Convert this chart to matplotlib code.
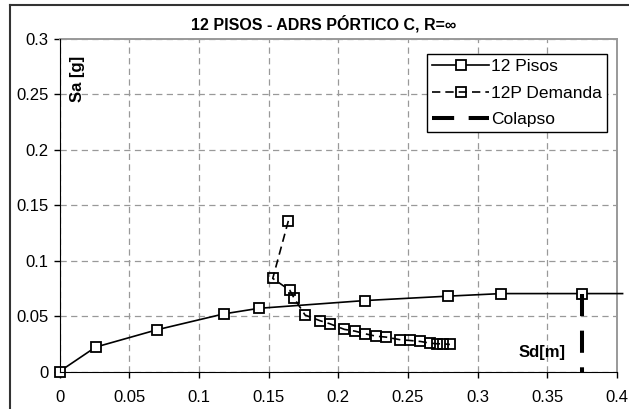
import matplotlib.pyplot as plt
from matplotlib.lines import Line2D

plt.rcParams['font.family'] = ['Liberation Sans', 'DejaVu Sans']

# curva de capacidad 12 pisos (Sd [m], Sa [g])
sd_cap = [0.0, 0.0259, 0.0701, 0.118, 0.143, 0.219, 0.279, 0.317, 0.375, 0.404]
sa_cap = [0.0, 0.022, 0.0377, 0.052, 0.057, 0.064, 0.068, 0.0703, 0.0703, 0.0703]

# curva de demanda
sd_dem = [0.1642, 0.1530, 0.1652, 0.1683, 0.1762, 0.1870, 0.1939, 0.2044, 0.2121,
          0.2190, 0.2269, 0.2346, 0.2446, 0.2513, 0.2590, 0.2657, 0.2710, 0.2753, 0.2801]
sa_dem = [0.1359, 0.0840, 0.0733, 0.0663, 0.0509, 0.0458, 0.0431, 0.0380, 0.0364,
          0.0341, 0.0319, 0.0310, 0.0286, 0.0280, 0.0271, 0.0256, 0.0250, 0.0250, 0.0244]

# colapso
sd_col = [0.375, 0.375]
sa_col = [0.0703, 0.0]

xticks = [0, 0.05, 0.1, 0.15, 0.2, 0.25, 0.3, 0.35, 0.4]
xlabels = ['0', '0.05', '0.1', '0.15', '0.2', '0.25', '0.3', '0.35', '0.4']
yticks = [0, 0.05, 0.1, 0.15, 0.2, 0.25, 0.3]
ylabels = ['0', '0.05', '0.1', '0.15', '0.2', '0.25', '0.3']

fig = plt.figure(figsize=(6.29, 4.09), dpi=100)
ax = fig.add_axes([59.5 / 629, 1 - 371.5 / 409, 557.5 / 629, 332.5 / 409])

ax.plot(sd_cap, sa_cap, color='black', lw=1.2, marker='s', ms=7, mfc='white',
        mec='black', mew=1.3, markevery=list(range(len(sd_cap) - 1)),
        label='12 Pisos', clip_on=False, zorder=3)
ax.plot(sd_dem, sa_dem, color='black', lw=1.2, ls=(0, (5, 3)), marker='s', ms=7,
        mfc='none', mec='black', mew=1.3, label='12P Demanda', zorder=4)
ax.plot(sd_col, sa_col, color='black', lw=2.9, ls=(0, (5.5, 3.6)),
        label='Colapso', zorder=5)

ax.set_xlim(0, 0.4)
ax.set_ylim(0, 0.3)
ax.set_xticks(xticks)
ax.set_xticklabels(xlabels)
ax.set_yticks(yticks)
ax.set_yticklabels(ylabels)
ax.tick_params(labelsize=12, length=4.3, width=1, color='black')
ax.tick_params(axis='x', pad=9)
ax.tick_params(axis='y', pad=3.5)

ax.grid(True, color='#999999', ls=(0, (5, 3.5)), lw=0.9)
ax.set_axisbelow(True)
for s in ['top', 'right']:
    ax.spines[s].set_color('#999999')
    ax.spines[s].set_linewidth(1.4)
for s in ['left', 'bottom']:
    ax.spines[s].set_color('black')
    ax.spines[s].set_zorder(6)

fig.text(324 / 629, 1 - 30 / 409, '12 PISOS - ADRS PÓRTICO C, R=∞', fontsize=11.5,
         fontweight='bold', ha='center', va='baseline')
ax.text(0.033, 0.881, 'Sa [g]', transform=ax.transAxes, rotation=90, fontsize=12,
        fontweight='bold', ha='center', va='center')
ax.text(0.3628, 0.017, 'Sd[m]', fontsize=12, fontweight='bold', ha='right', va='center')

leg = ax.legend(loc='upper right', bbox_to_anchor=(0.982, 0.955), borderaxespad=0,
                fontsize=12.5, frameon=True, fancybox=False, edgecolor='black',
                framealpha=1, handlelength=3.28, handletextpad=0.1, borderpad=0.3,
                labelspacing=0.65)
leg.get_frame().set_linewidth(1.0)

# marco del grafico
fig.add_artist(Line2D([10 / 629, 10 / 629], [0, 1 - 5 / 409], color='#333333', lw=1.5))
fig.add_artist(Line2D([10 / 629, 1], [1 - 5 / 409, 1 - 5 / 409], color='#333333', lw=1.5))

fig.savefig('out.png', dpi=100)
